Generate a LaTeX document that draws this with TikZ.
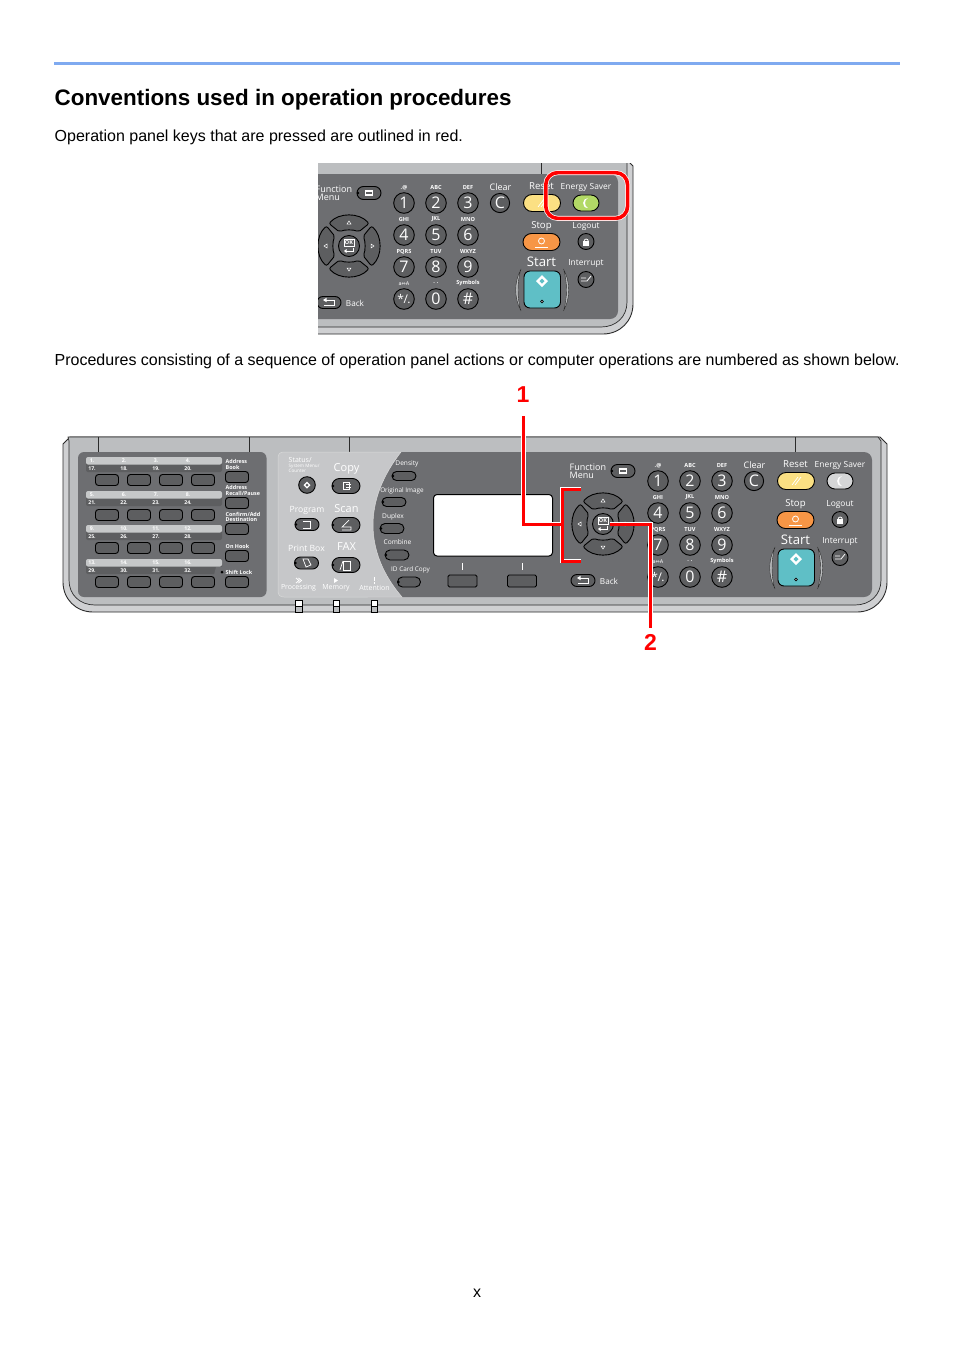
\documentclass[tikz,border=0pt]{standalone}
\usepackage{fontspec}
\setmainfont{Liberation Sans}
\newfontfamily\pf{Open Sans}
\newfontfamily\dv{DejaVu Sans}
\definecolor{bodyband}{HTML}{CFD0D2}
\definecolor{bodygray}{HTML}{BCBEC0}
\definecolor{lightpanel}{HTML}{C6C7C9}
\definecolor{darkpanel}{HTML}{6D6E71}
\definecolor{keygray}{HTML}{5D5E60}
\definecolor{rulecol}{HTML}{7FAAF0}
\definecolor{resetyellow}{HTML}{FBE083}
\definecolor{stoporange}{HTML}{F79646}
\definecolor{startteal}{HTML}{5FBFC6}
\definecolor{esgreen}{HTML}{B2D966}
\definecolor{esgray}{HTML}{D5D6D7}
\definecolor{markred}{HTML}{FF0000}
\definecolor{outline}{HTML}{2B2B2B}
\tikzset{
  x=1pt,y=-1pt,
  plab/.style={text=white,inner sep=0pt,align=center},
  keyline/.style={draw=black,line width=.9pt},
  ico/.style={draw=white,line width=.7pt},
  icofill/.style={fill=white,draw=none},
  redline/.style={draw=markred,line width=3pt,line cap=butt,line join=miter},
  redhalo/.style={draw=white,line width=4.4pt,line cap=butt,line join=miter},
}
\newcommand{\lab}[4]{\node[plab,font=\pf\fontsize{#3}{#3}\selectfont] at (#1,#2) {#4};}
\newcommand{\pill}[5]{\pgfmathsetlengthmacro\rr{#4/2-.02}%
  \draw[keyline,fill=#5,rounded corners=\rr] ({#1-#3/2},{#2-#4/2}) rectangle ({#1+#3/2},{#2+#4/2});}
\newcommand{\dotl}[3]{\fill[black] ({#1-#3/2+1},#2) circle (1.3);}
\newcommand{\dpill}[4]{\pill{#1}{#2}{#3}{#4}{keygray}\dotl{#1}{#2}{#3}}
\newcommand{\sq}[2]{\draw[keyline,fill=keygray,rounded corners=3pt] ({#1-11.5},{#2-5.5}) rectangle ({#1+11.5},{#2+5.5});}
\newcommand{\body}{%
  \draw[draw=outline,line width=.9pt,fill=bodyband]
    (70,437) -- (880,437) -- (887,444) -- (887,582) .. controls (887,599) and (874,612) .. (857,612)
    -- (93,612) .. controls (76,612) and (63,599) .. (63,582) -- (63,444) -- cycle;
  \draw[draw=outline,line width=.7pt,fill=bodygray]
    (68,437) -- (878,437) -- (881,441) -- (881,580) .. controls (881,595) and (870,605) .. (855,605)
    -- (95,605) .. controls (80,605) and (69,595) .. (69,580) -- (69,441) -- cycle;
  \fill[darkpanel,rounded corners=8pt] (360,452) rectangle (872,597);
  \foreach \tx in {98.5,249,349.5,795} {\draw[outline,line width=.8pt] (\tx,437) -- (\tx,452);}
}
\newcommand{\rightkeys}[1]{%
  % function and back
  \node[plab,font=\pf\fontsize{9}{7.6}\selectfont,align=left,anchor=west] at (569.5,471) {Function\\Menu};
  \dpill{623}{471}{24}{13}
  \fill[white] (618.5,468) rectangle (627,474); \fill[keygray] (620,470) rectangle (625.5,472);
  \pill{583}{580.5}{24}{12}{keygray}
  \draw[ico] (580,578) -- (588,578) -- (588,583.5) -- (578,583.5);
  \fill[white] (577,578) -- (580.5,575.8) -- (580.5,580.2) -- cycle;
  \lab{609}{581}{8.2}{Back}
  % navigation ring
  \begin{scope}[shift={(603,524)}]
    \foreach \a in {0,90,180,270} {
      \begin{scope}[rotate=\a]
        \draw[keyline,fill=keygray,rounded corners=2pt] (-20,-22.5) .. controls (-10,-33.5) and (10,-33.5) .. (20,-22.5)
          -- (9.5,-14) .. controls (5,-16.5) and (-5,-16.5) .. (-9.5,-14) -- cycle;
        \draw[white,line width=.5pt] (-2,-22) -- (2,-22) -- (0,-25) -- cycle;
      \end{scope}
    }
    \draw[keyline,fill=keygray] (0,0) circle (10.5);
    \draw[ico,line width=.6pt] (-5,-7) rectangle (5,0);
    \node[plab,font=\pf\bfseries\fontsize{5.5}{5.5}\selectfont] at (0,-3.5) {OK};
    \draw[ico] (4,2) -- (4,5) -- (-3,5); \fill[white] (-5,5) -- (-2.5,3) -- (-2.5,7) -- cycle;
  \end{scope}
  % keypad
  \foreach \kx/\ky/\kt/\kd in {658/481/{.@}/1,690/481/ABC/2,722/481/DEF/3,
      658/513/GHI/4,690/513/JKL/5,722/513/MNO/6,
      658/545/PQRS/7,690/545/TUV/8,722/545/WXYZ/9,690/577/{. .}/0,722/577/Symbols/\#} {
    \draw[keyline,fill=keygray] (\kx,\ky) circle (10.3);
    \node[plab,font=\pf\fontsize{16}{16}\selectfont] at (\kx,\ky) {\kd};
    \node[plab,font=\pf\bfseries\fontsize{5.6}{5.6}\selectfont] at (\kx,\ky-15.5) {\kt};
  }
  \draw[keyline,fill=keygray] (658,577) circle (10.3);
  \node[plab,font=\pf\fontsize{12}{12}\selectfont] at (658,577) {*{\kern-.5pt}/{\kern-.5pt}.};
  \node[plab,font=\dv\fontsize{5}{5}\selectfont] at (658,561.5) {a⇔A};
  % clear
  \draw[keyline,fill=keygray] (754,481) circle (9.6);
  \lab{754}{481}{16}{C}
  \lab{754.5}{465}{9}{Clear}
  % reset
  \pill{796}{481}{37}{17}{resetyellow}
  \draw[white,line width=.7pt] (792,485) -- (798,477) (795,485) -- (801,477);
  \lab{795.5}{464}{9.6}{Reset}
  % energy saver
  \lab{840}{465.2}{8.4}{Energy Saver}
  \pill{840}{481}{26}{16}{#1}
  \fill[white] (842,476) .. controls (836,476) and (835,486) .. (842,486) .. controls (838,484) and (838,478) .. (842,476) -- cycle;
  % stop
  \lab{795.5}{504}{9.6}{Stop}
  \pill{795.5}{520}{37}{17}{stoporange}
  \draw[white,line width=.8pt] (795.5,519) circle (3);
  \draw[white,line width=.9pt] (789,525.5) -- (802,525.5);
  % logout
  \lab{840}{504.2}{8.4}{Logout}
  \draw[keyline,fill=keygray] (840,519.5) circle (8);
  \fill[white] (837,519) rectangle (843,524); \draw[white,line width=.8pt] (838.2,519) arc (180:360:2);
  % start
  \lab{795.5}{539.5}{13.2}{Start}
  \draw[keyline,fill=startteal,rounded corners=6pt] (778,549) rectangle (814.5,586);
  \fill[white] (796,553) -- (802,559) -- (796,565) -- (790,559) -- cycle;
  \fill[startteal] (796,556.5) -- (798.5,559) -- (796,561.5) -- (793.5,559) -- cycle;
  \draw[black,fill=white,line width=.6pt] (796,579.5) circle (1.4);
  \draw[outline,fill=bodygray,line width=.4pt] (775,547) .. controls (768,560) and (768,576) .. (775,589)
     .. controls (771,576) and (771,560) .. (775,547) -- cycle;
  \draw[outline,fill=bodygray,line width=.4pt] (817.5,547) .. controls (824.5,560) and (824.5,576) .. (817.5,589)
     .. controls (821.5,576) and (821.5,560) .. (817.5,547) -- cycle;
  % interrupt
  \lab{840}{541.8}{8.4}{Interrupt}
  \draw[keyline,fill=keygray] (840,557.5) circle (8);
  \draw[white,line width=.8pt] (835,556) -- (840,556) (835,559) -- (841,559) -- (845,554);
}
\begin{document}
\begin{tikzpicture}
\useasboundingbox (0,0) rectangle (954,1350);
\fill[white] (0,0) rectangle (954,1350);
% page furniture
\fill[rulecol] (54,61.7) rectangle (900,64.7);
\node[anchor=base west,inner sep=0pt,font=\bfseries\fontsize{22.4}{24}\selectfont] (heading) at (54.5,105) {Conventions used in operation procedures};
\node[anchor=base west,inner sep=0pt,font=\fontsize{16}{18}\selectfont] (para1) at (54.5,141) {Operation panel keys that are pressed are outlined in red.};
\node[anchor=base west,inner sep=0pt,font=\fontsize{16}{18}\selectfont] (para2) at (54.5,365) {Procedures consisting of a sequence of operation panel actions or computer operations are numbered as shown below.};
\node[anchor=base,inner sep=0pt,font=\fontsize{16}{18}\selectfont] (pageno) at (477,1297) {x};

% ---------- small panel ----------
\begin{scope}
  \clip (318,163.5) rectangle (640,340);
  \begin{scope}[shift={(-254,-278)}]
    \body
    \rightkeys{esgreen}
  \end{scope}
\end{scope}
\draw[draw=white,line width=5pt,rounded corners=12pt] (545.8,172.6) rectangle (627.6,218.4);
\draw[draw=markred,line width=3.6pt,rounded corners=12pt] (545.8,172.6) rectangle (627.6,218.4);

% ---------- large panel ----------
\body
% left one-touch block
\fill[darkpanel,rounded corners=6pt] (78,452) rectangle (266.5,597);
\foreach \sy/\na/\nb/\nc/\nd/\ne/\nf/\ng/\nh in {457/1/2/3/4/17/18/19/20,491/5/6/7/8/21/22/23/24,525/9/10/11/12/25/26/27/28,559/13/14/15/16/29/30/31/32} {
  \fill[keygray,rounded corners=2pt] (86,\sy) rectangle (222,\sy+15);
  \fill[bodygray!85!white,rounded corners=2pt] (86,\sy) rectangle (222,\sy+7.5);
  \node[plab,font=\pf\bfseries\fontsize{5.2}{5.2}\selectfont] at (92,\sy+3.5) {\na.};
  \node[plab,font=\pf\bfseries\fontsize{5.2}{5.2}\selectfont] at (124,\sy+3.5) {\nb.};
  \node[plab,font=\pf\bfseries\fontsize{5.2}{5.2}\selectfont] at (156,\sy+3.5) {\nc.};
  \node[plab,font=\pf\bfseries\fontsize{5.2}{5.2}\selectfont] at (188,\sy+3.5) {\nd.};
  \node[plab,font=\pf\bfseries\fontsize{5.2}{5.2}\selectfont] at (92,\sy+11.5) {\ne.};
  \node[plab,font=\pf\bfseries\fontsize{5.2}{5.2}\selectfont] at (124,\sy+11.5) {\nf.};
  \node[plab,font=\pf\bfseries\fontsize{5.2}{5.2}\selectfont] at (156,\sy+11.5) {\ng.};
  \node[plab,font=\pf\bfseries\fontsize{5.2}{5.2}\selectfont] at (188,\sy+11.5) {\nh.};
}
\fill[darkpanel] (216,567) -- (223,567) -- (223,575) -- (214,575) -- cycle;
\fill[black] (220.5,572) -- (222,570.5) -- (223.5,572) -- (222,573.5) -- cycle;
\foreach \ky in {480,515,548,582} {
  \foreach \kx in {107,139,171,203} { \sq{\kx}{\ky} }
}
\foreach \ky in {477,503,529,556,582} { \sq{237}{\ky} }
\node[plab,font=\pf\bfseries\fontsize{5.4}{5.6}\selectfont,align=left,anchor=west] at (225.5,464.5) {Address\\Book};
\node[plab,font=\pf\bfseries\fontsize{5.4}{5.6}\selectfont,align=left,anchor=west] at (225.5,490.5) {Address\\Recall/Pause};
\node[plab,font=\pf\bfseries\fontsize{5.4}{5.6}\selectfont,align=left,anchor=west] at (225.5,517) {Confirm/Add\\Destination};
\node[plab,font=\pf\bfseries\fontsize{5.4}{5.6}\selectfont,anchor=west] at (225.5,546) {On Hook};
\node[plab,font=\pf\bfseries\fontsize{5.4}{5.6}\selectfont,anchor=west] at (225.5,572.5) {Shift Lock};

% mode panel with curved edge
\draw[draw=white!85!black,line width=.5pt,fill=lightpanel] (284,452) -- (401,452) .. controls (383,475) and (373,500) .. (373,525)
  .. controls (373,550) and (383,575) .. (402,597) -- (284,597) .. controls (280,597) and (278,595) .. (278,591)
  -- (278,458) .. controls (278,454) and (280,452) .. (284,452) -- cycle;
\node[plab,font=\pf\fontsize{7}{7}\selectfont,anchor=west] at (288.5,459.5) {Status/};
\node[plab,font=\pf\fontsize{4.6}{5}\selectfont,anchor=west,align=left] at (288.5,468) {System Menu/\\Counter};
\draw[keyline,fill=keygray] (307,485) circle (8.3);
\fill[white] (307,481.5) -- (310.5,485) -- (307,488.5) -- (303.5,485) -- cycle;
\fill[keygray] (307,483.5) -- (308.5,485) -- (307,486.5) -- (305.5,485) -- cycle;
\lab{346.5}{469.3}{11}{Copy}
\dpill{346}{486}{28}{15}
\draw[ico] (343,482) rectangle (349,489); \draw[ico] (346,484) -- (351,484) (346,487) -- (351,487);
\lab{307}{510}{8.6}{Program}
\dpill{307}{524.5}{24}{12}
\draw[ico] (303,521) -- (310,521) -- (310,528) -- (303,528);
\lab{346.5}{508.5}{11}{Scan}
\dpill{346}{525}{28}{15}
\draw[ico] (342,530) -- (351,530) -- (351,527) -- (342,527) -- (349,520);
\lab{306.5}{548}{8.6}{Print Box}
\dpill{306.5}{563}{24}{12}
\draw[ico] (303,559) -- (308,559) -- (311,565) -- (306,567) -- cycle;
\lab{346.5}{547}{11}{FAX}
\dpill{346}{565}{28}{15}
\draw[ico] (343,561) rectangle (350,570); \draw[ico] (340,570) -- (343,561);
\lab{298.5}{588}{7}{Processing}
\lab{336}{588}{7}{Memory}
\lab{374.5}{587.5}{7}{Attention}
\draw[white,line width=.8pt] (296,578) -- (299,580.5) -- (296,583) (298.5,578) -- (301.5,580.5) -- (298.5,583);
\fill[white] (334,578) -- (338,580.5) -- (334,583) -- cycle;
\draw[white,line width=.9pt] (374.5,577) -- (374.5,581) (374.5,582) -- (374.5,583.5);

% LED tabs below the panel
\foreach \lx in {299,336.5,374.5} {
  \draw[black,fill=white,line width=.9pt] (\lx-3.2,600.5) rectangle (\lx+3.2,606.5);
  \draw[black,fill=bodygray,line width=.9pt] (\lx-3.2,606.5) rectangle (\lx+3.2,612.5);
}

% function keys on the curve
\dpill{404}{476}{24}{9}
\dpill{394}{502}{24}{9}
\dpill{392}{528.5}{24}{10}
\dpill{397}{555}{24}{10}
\dpill{409}{582}{23}{10}
\lab{407}{463.5}{6.6}{Density}
\lab{402}{490.5}{6.4}{Original Image}
\lab{393}{517}{6.6}{Duplex}
\lab{397.5}{542.5}{6.6}{Combine}
\lab{410.5}{569.5}{6.4}{ID Card Copy}

% display and soft keys
\draw[draw=black,line width=1pt,fill=white,rounded corners=3.5pt] (433.5,494.5) rectangle (552.5,556);
\foreach \kx in {462.5,522} {
  \draw[keyline,fill=keygray,rounded corners=1.5pt] (\kx-14.5,575) rectangle (\kx+14.5,587);
  \draw[white,line width=.6pt] (\kx,563) -- (\kx,570);
}
\rightkeys{esgray}

% ---------- red call-outs ----------
\node[inner sep=0pt,text=markred,font=\bfseries\fontsize{23}{23}\selectfont] (one) at (523,394.5) {1};
\node[inner sep=0pt,text=markred,font=\bfseries\fontsize{23}{23}\selectfont] (two) at (650.5,642) {2};
\coordinate (oneA) at (523.5,416);
\coordinate (oneB) at (523.5,524);
\coordinate (oneC) at (562,524);
\coordinate (brTop) at (581,489);
\coordinate (brTopC) at (562,489);
\coordinate (brBot) at (581,561);
\coordinate (brBotC) at (562,561);
\coordinate (okKey) at (610,524);
\coordinate (twoC) at (650.5,524);
\coordinate (twoE) at (650.5,628);
\draw[redhalo] (oneA) -- (oneB) -- (oneC);
\draw[redhalo] (brTop) -- (brTopC) -- (brBotC) -- (brBot);
\draw[redhalo] (okKey) -- (twoC) -- (twoE);
\draw[redline] (oneA) -- (oneB) -- (oneC);
\draw[redline] (brTop) -- (brTopC) -- (brBotC) -- (brBot);
\draw[redline] (okKey) -- (twoC) -- (twoE);
\end{tikzpicture}
\end{document}
